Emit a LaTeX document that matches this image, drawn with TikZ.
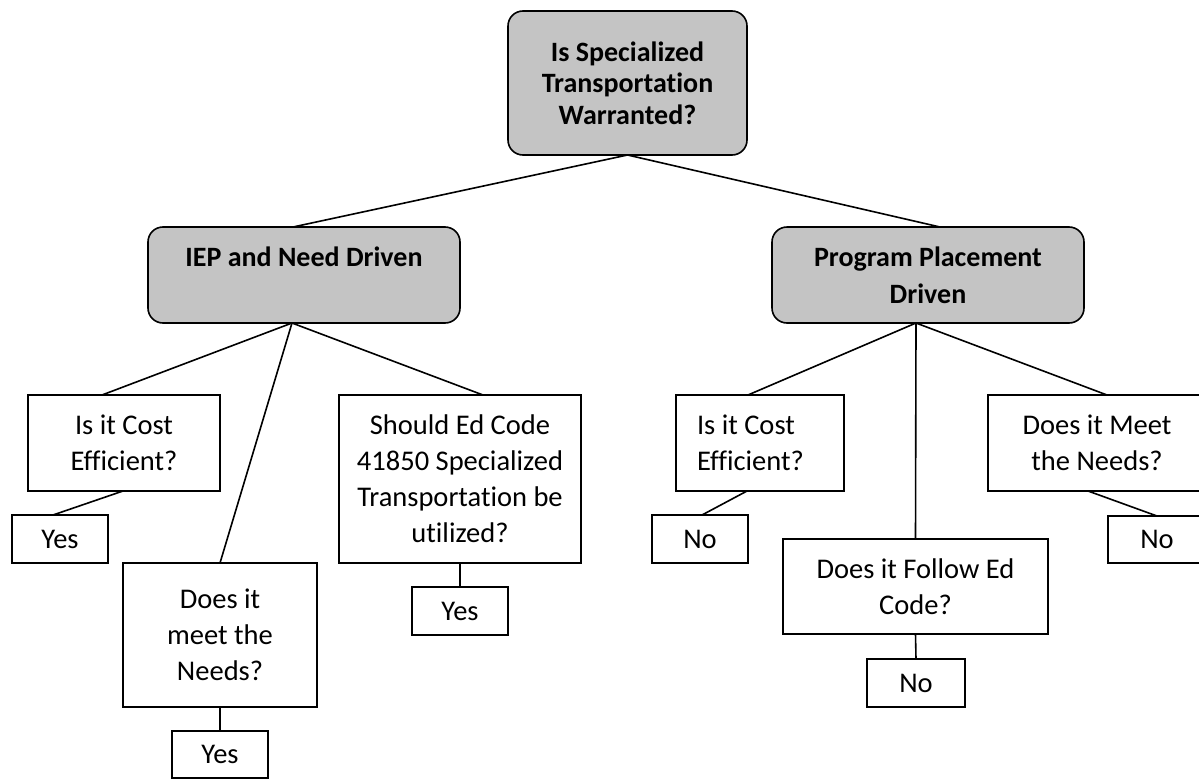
\documentclass[tikz,border=0pt]{standalone}
\usepackage{fontspec}
\setmainfont{Carlito}[Ligatures=NoCommon]
\definecolor{boxgray}{RGB}{196,196,196}
\begin{document}
\begin{tikzpicture}[x=1pt,y=-1pt,
  every node/.style={inner sep=0pt, outer sep=0pt, align=center},
  qbox/.style={draw, line width=1.6pt, fill=white, font=\fontsize{28.5}{36}\selectfont},
  headbox/.style={draw, line width=1.6pt, fill=boxgray, rounded corners=15pt, font=\bfseries\fontsize{28}{31.5}\selectfont},
  headboxb/.style={headbox, font=\bfseries\fontsize{28}{37}\selectfont},
  link/.style={line width=1.6pt}]
\useasboundingbox (0,0) rectangle (1199,779);

\node[headbox, minimum width=239pt, minimum height=144pt] (top) at (627.5,83) {Is Specialized\\Transportation\\Warranted?};
\node[headboxb, minimum width=312pt, minimum height=96pt] (iep) at (304,275) {IEP and Need Driven\\\phantom{Driven}};
\node[headboxb, minimum width=312pt, minimum height=96pt] (pp) at (928,275) {Program Placement\\Driven};

\node[qbox, minimum width=192pt, minimum height=96pt] (c1) at (124,443) {Is it Cost\\Efficient?};
\node[qbox, minimum width=96pt, minimum height=48pt] (y1) at (60,539) {Yes};
\node[qbox, minimum width=194pt, minimum height=144pt] (n1) at (220,635) {Does it\\meet the\\Needs?};
\node[qbox, minimum width=96pt, minimum height=47pt] (y2) at (220,754.5) {Yes};
\node[qbox, minimum width=242pt, minimum height=168pt] (s1) at (460,479) {Should Ed Code\\41850 Specialized\\Transportation be\\utilized?};
\node[qbox, minimum width=96pt, minimum height=48pt] (y3) at (460,611) {Yes};

\node[qbox, minimum height=96pt, text width=126pt, inner xsep=21pt, align=flush left] (c2) at (760,443) {Is it Cost\\Efficient?};
\node[qbox, minimum width=96pt, minimum height=48pt] (no1) at (700,539) {No};
\node[qbox, minimum width=265pt, minimum height=95pt] (f1) at (915.5,586.5) {Does it Follow Ed\\Code?};
\node[qbox, minimum width=98pt, minimum height=48pt] (no2) at (916,683) {No};
\node[qbox, minimum width=218pt, minimum height=96pt] (m1) at (1097,443) {Does it Meet\\the Needs?};
\node[qbox, minimum width=98pt, minimum height=47pt] (no3) at (1157,539.5) {No};

\draw[link] (top.south) -- ([xshift=-11pt]iep.north);
\draw[link] (top.south) -- ([xshift=12pt]pp.north);

\draw[link] ([xshift=-12pt]iep.south) -- ([xshift=-22pt]c1.north);
\draw[link] ([xshift=-12pt]iep.south) -- (n1.north);
\draw[link] ([xshift=-12pt]iep.south) -- ([xshift=23pt]s1.north);
\draw[link] ([xshift=-1pt]c1.south) -- ([xshift=-7pt]y1.north);
\draw[link] (n1.south) -- (y2.north);
\draw[link] (s1.south) -- (y3.north);

\draw[link] ([xshift=-12pt]pp.south) -- ([xshift=-12pt]c2.north);
\draw[link] ([xshift=-12pt]pp.south) -- (f1.north);
\draw[link] ([xshift=-12pt]pp.south) -- ([xshift=10pt]m1.north);
\draw[link] ([xshift=-13pt]c2.south) -- ([xshift=2pt]no1.north);
\draw[link] (f1.south) -- (no2.north);
\draw[link] ([xshift=-9pt]m1.south) -- (no3.north);
\end{tikzpicture}
\end{document}
